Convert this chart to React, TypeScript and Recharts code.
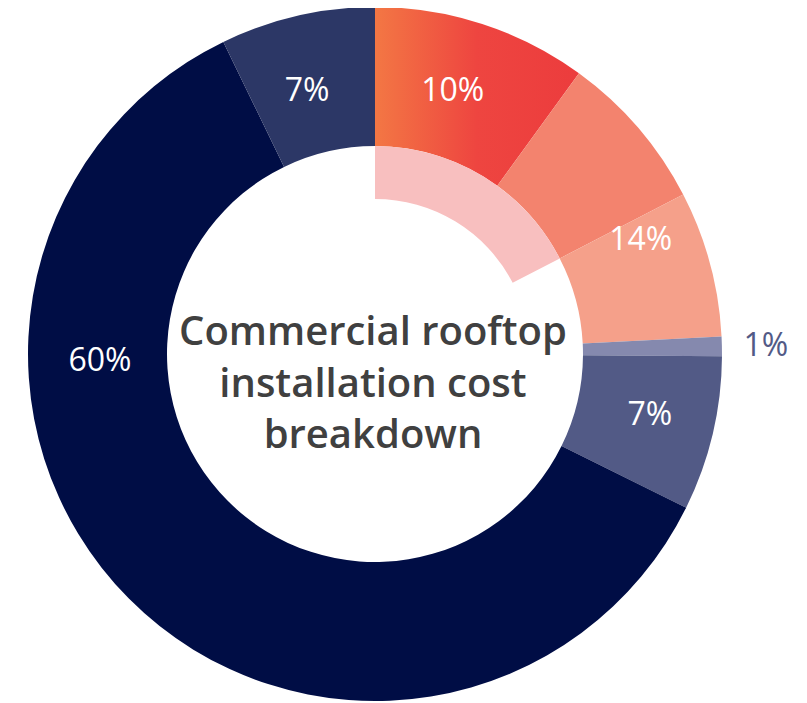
import React from 'react';
import { PieChart, Pie, Cell } from 'recharts';

// ---- data ----
const SEGMENTS = ['Modules', 'Inverters', 'Balance of system', 'Permits', 'Installation labour', 'Soft costs', 'Other'];
const VALUES = [10, 7.4, 6.8, 0.9, 7.2, 60.5, 7.2];
const LABELS = ['10%', '', '14%', '1%', '7%', '60%', '7%'];
const INNER_SEGMENTS = ['Hardware share', 'Rest'];
const INNER_VALUES = [17.4, 82.6];
const TITLE_LINES = ['Commercial rooftop', 'installation cost', 'breakdown'];

// ---- styles / layout ----
const COLORS = ['url(#redGrad)', '#F3836E', '#F5A08A', '#8589AE', '#525A86', '#000D45', '#2C3766'];
const INNER_COLORS = ['#F8BFBF', 'transparent'];
const LABEL_COLORS = ['#FFFFFF', '#FFFFFF', '#FFFFFF', '#525A86', '#FFFFFF', '#FFFFFF', '#FFFFFF'];
// compass angle (deg, clockwise from top), radius for each label
const LABEL_POLAR: Array<[number, number] | null> = [
  [16.3, 277], null, [66.4, 290], [88.4, 391], [102.1, 281], [269, 275], [-14.3, 274.5],
];
const CX = 367; // chart-space centre
const CY = 346;
const MARGIN = 5; // recharts default margin applied to pie cx/cy
const FONT = '"Open Sans", "Noto Sans", sans-serif';

const outerData = SEGMENTS.map((name, i) => ({ name, value: VALUES[i] }));
const innerData = INNER_SEGMENTS.map((name, i) => ({ name, value: INNER_VALUES[i] }));

const renderLabel = (props: any) => {
  const { index } = props;
  const cx = props.cx ?? CX;
  const cy = props.cy ?? CY;
  const pol = LABEL_POLAR[index];
  const text = LABELS[index];
  if (!pol || !text) return null;
  const a = (pol[0] * Math.PI) / 180;
  const x = cx + pol[1] * Math.sin(a);
  const y = cy - pol[1] * Math.cos(a);
  return (
    <text
      key={`lbl-${index}`}
      x={x}
      y={y}
      fill={LABEL_COLORS[index]}
      textAnchor="middle"
      dominantBaseline="central"
      style={{ fontFamily: FONT, fontSize: 32, fontWeight: 400 }}
    >
      {text}
    </text>
  );
};

export default function App() {
  return (
    <div style={{ width: 799, height: 695 }}>
      <PieChart width={799} height={695}>
        <defs>
          <linearGradient id="redGrad" x1="0" y1="0" x2="1" y2="0">
            <stop offset="0%" stopColor="#F37744" />
            <stop offset="50%" stopColor="#EE4540" />
            <stop offset="100%" stopColor="#EC3C3D" />
          </linearGradient>
        </defs>
        <Pie
          data={outerData}
          dataKey="value"
          nameKey="name"
          cx={CX - MARGIN}
          cy={CY - MARGIN}
          startAngle={90}
          endAngle={-270}
          innerRadius={208}
          outerRadius={347}
          stroke="none"
          isAnimationActive={false}
          labelLine={false}
          label={renderLabel}
        >
          {outerData.map((d, i) => (
            <Cell key={d.name} fill={COLORS[i]} stroke="none" />
          ))}
        </Pie>
        <Pie
          data={innerData}
          dataKey="value"
          nameKey="name"
          cx={CX - MARGIN}
          cy={CY - MARGIN}
          startAngle={90}
          endAngle={-270}
          innerRadius={155}
          outerRadius={208}
          stroke="none"
          isAnimationActive={false}
        >
          {innerData.map((d, i) => (
            <Cell key={d.name} fill={INNER_COLORS[i]} stroke="none" />
          ))}
        </Pie>
        <text
          x={CX - 2}
          textAnchor="middle"
          fill="#404040"
          style={{ fontFamily: FONT, fontSize: 40, fontWeight: 600 }}
        >
          {TITLE_LINES.map((line, i) => (
            <tspan key={line} x={CX - 2} y={337 + i * 51.5}>
              {line}
            </tspan>
          ))}
        </text>
      </PieChart>
    </div>
  );
}
